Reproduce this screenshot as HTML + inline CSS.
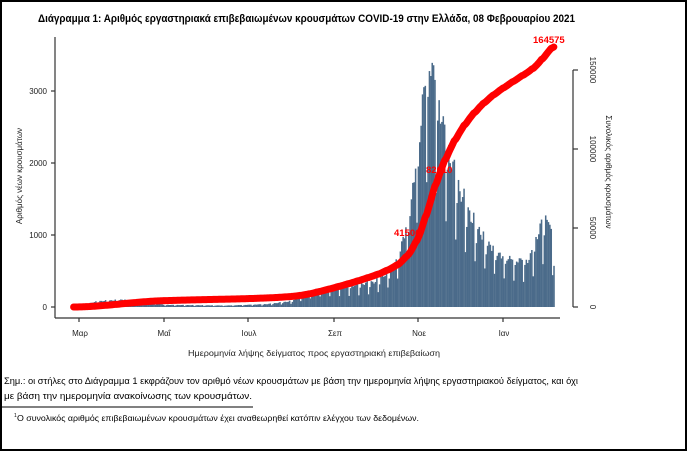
<!DOCTYPE html>
<html><head><meta charset="utf-8"><style>
html,body{margin:0;padding:0;background:#fff}
#w{position:relative;width:683px;height:447px;border:2px solid #000;overflow:hidden;font-family:"Liberation Sans","DejaVu Sans",sans-serif}
svg{position:absolute;left:-2px;top:-2px}
</style></head><body><div id="w">
<svg id="s" width="687" height="451" xmlns="http://www.w3.org/2000/svg" font-family="Liberation Sans, DejaVu Sans, sans-serif">
<text x="38" y="22" font-size="10.6" font-weight="bold" fill="#000" textLength="537" lengthAdjust="spacingAndGlyphs">Διάγραμμα 1: Αριθμός εργαστηριακά επιβεβαιωμένων κρουσμάτων COVID-19 στην Ελλάδα, 08 Φεβρουαρίου 2021</text>
<g id="bars"></g>
<path id="cum" fill="none" stroke="#ff0000" stroke-width="7" stroke-linecap="round" stroke-linejoin="round"/>
<g stroke="#333" stroke-width="1.2" fill="none">
<line x1="55" y1="37" x2="55" y2="318"/>
<line x1="55" y1="318" x2="560" y2="318"/>
<line x1="573" y1="70" x2="573" y2="307"/>
<line x1="51" y1="91" x2="55" y2="91"/><line x1="51" y1="163" x2="55" y2="163"/><line x1="51" y1="235" x2="55" y2="235"/><line x1="51" y1="307" x2="55" y2="307"/>
<line x1="573" y1="70" x2="578" y2="70"/><line x1="573" y1="149" x2="578" y2="149"/><line x1="573" y1="228" x2="578" y2="228"/><line x1="573" y1="307" x2="578" y2="307"/>
<line x1="79" y1="318" x2="79" y2="322"/><line x1="164" y1="318" x2="164" y2="322"/><line x1="248" y1="318" x2="248" y2="322"/><line x1="334" y1="318" x2="334" y2="322"/><line x1="418" y1="318" x2="418" y2="322"/><line x1="503" y1="318" x2="503" y2="322"/>
</g>
<g font-size="8" fill="#222" text-anchor="end">
<text x="47" y="94">3000</text><text x="47" y="166">2000</text><text x="47" y="238">1000</text><text x="47" y="310">0</text>
</g>
<g font-size="8" fill="#222" text-anchor="middle">
<text x="80" y="336">Μαρ</text><text x="164" y="336">Μαΐ</text><text x="249" y="336">Ιουλ</text><text x="335" y="336">Σεπ</text><text x="419" y="336">Νοε</text><text x="504" y="336">Ιαν</text>
<text transform="translate(590,70) rotate(90)">150000</text>
<text transform="translate(590,149) rotate(90)">100000</text>
<text transform="translate(590,228) rotate(90)">50000</text>
<text transform="translate(590,307) rotate(90)">0</text>
<text transform="translate(22,176) rotate(-90)">Αριθμός νέων κρουσμάτων</text>
<text transform="translate(606,172) rotate(90)">Συνολικός αριθμός κρουσμάτων</text>
</g>
<text x="188" y="356" font-size="8" fill="#222" textLength="252" lengthAdjust="spacingAndGlyphs">Ημερομηνία λήψης δείγματος προς εργαστηριακή επιβεβαίωση</text>
<g font-size="9.5" font-weight="bold" fill="#ff0000">
<text x="533" y="43">164575</text>
<text x="426" y="173">82610</text>
<text x="394" y="236">41506</text>
</g>
<text x="4" y="384" font-size="9.6" fill="#000" textLength="574" lengthAdjust="spacingAndGlyphs">Σημ.: οι στήλες στο Διάγραμμα 1 εκφράζουν τον αριθμό νέων κρουσμάτων με βάση την ημερομηνία λήψης εργαστηριακού δείγματος, και όχι</text>
<text x="4" y="399" font-size="9.6" fill="#000" textLength="248" lengthAdjust="spacingAndGlyphs">με βάση την ημερομηνία ανακοίνωσης των κρουσμάτων.</text>
<line x1="2" y1="407" x2="253" y2="407" stroke="#000" stroke-width="1"/>
<text x="14" y="417" font-size="5" fill="#000">1</text>
<text x="17" y="421" font-size="7.8" fill="#000" textLength="402" lengthAdjust="spacingAndGlyphs">Ο συνολικός αριθμός επιβεβαιωμένων κρουσμάτων έχει αναθεωρηθεί κατόπιν ελέγχου των δεδομένων.</text>
</svg>
<script>
var K=[[0,5],[18,80],[35,100],[54,80],[65,30],[110,20],[140,40],[157,80],[176,250],[202,300],[218,350],[232,550],[242,1200],[249,2200],[253,3000],[258,3400],[264,2800],[270,2200],[279,1600],[288,1200],[298,900],[309,700],[319,650],[329,650],[337,1100],[343,1250],[347,700]];
function env(d){for(var i=0;i<K.length-1;i++){if(d<=K[i+1][0]){var t=(d-K[i][0])/(K[i+1][0]-K[i][0]);return K[i][1]+t*(K[i+1][1]-K[i][1]);}}return 700;}
var N=348,vals=[],cum=[],c=0;
for(var d=0;d<N;d++){var v=env(d);var w=(d%7);var m=w==3?0.55:(w==4?0.85:(w==2?1.06:1.0));m*=1+0.06*Math.sin(d*1.7);vals.push(v*m);c+=v*m;cum.push(c);}
var sc=164575/c;
var g=document.getElementById('bars'),x0=73,dx=1.384,h='';
for(var d=0;d<N;d++){var bh=vals[d]*0.072;h+='<rect x="'+(x0+d*dx).toFixed(2)+'" y="'+(307-bh).toFixed(2)+'" width="'+(dx+0.15).toFixed(2)+'" height="'+bh.toFixed(2)+'" fill="#4b6b8a"/>';}
g.innerHTML=h;
var p='';for(var d=0;d<N;d++){var y=307-cum[d]*sc*79/50000;p+=(d?'L':'M')+(x0+d*dx+0.6).toFixed(2)+' '+y.toFixed(2);}
document.getElementById('cum').setAttribute('d',p);
</script>
</div></body></html>
